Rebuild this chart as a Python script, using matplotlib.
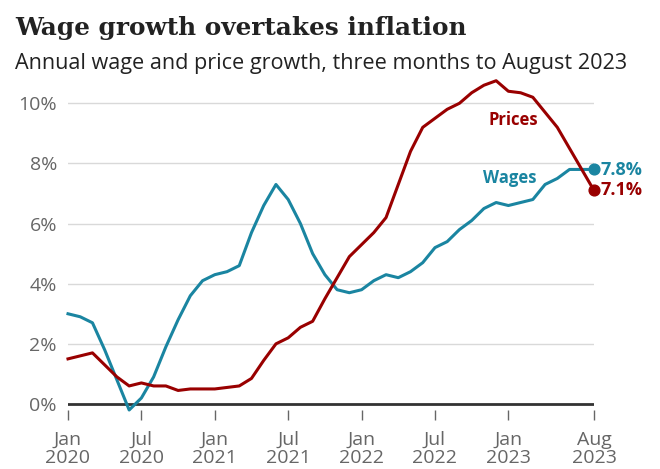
import matplotlib
matplotlib.use("Agg")
import matplotlib.pyplot as plt

# monthly values, three months to Jan 2020 ... Aug 2023
wages = [3.0, 2.9, 2.7, 1.8, 0.8, -0.2, 0.2, 0.9, 1.9, 2.8, 3.6, 4.1,
         4.3, 4.4, 4.6, 5.7, 6.6, 7.3, 6.8, 6.0, 5.0, 4.3, 3.8, 3.7,
         3.8, 4.1, 4.3, 4.2, 4.4, 4.7, 5.2, 5.4, 5.8, 6.1, 6.5, 6.7,
         6.6, 6.7, 6.8, 7.3, 7.5, 7.8, 7.8, 7.8]
prices = [1.5, 1.6, 1.7, 1.3, 0.9, 0.6, 0.7, 0.6, 0.6, 0.45, 0.5, 0.5,
          0.5, 0.55, 0.6, 0.85, 1.45, 2.0, 2.2, 2.55, 2.75, 3.5, 4.2, 4.9,
          5.3, 5.7, 6.2, 7.3, 8.4, 9.2, 9.5, 9.8, 10.0, 10.35, 10.6, 10.75,
          10.4, 10.35, 10.2, 9.7, 9.2, 8.5, 7.8, 7.1]
months = list(range(len(wages)))
tick_pos = [0, 6, 12, 18, 24, 30, 36, 43]
tick_labels = ["Jan\n2020", "Jul\n2020", "Jan\n2021", "Jul\n2021",
               "Jan\n2022", "Jul\n2022", "Jan\n2023", "Aug\n2023"]
y_ticks = [0, 2, 4, 6, 8, 10]

teal = "#1a85a1"
red = "#990000"
grey = "#666666"

plt.rcParams['font.family'] = ['Open Sans', 'DejaVu Sans']

fig = plt.figure(figsize=(6.6, 4.69), dpi=100)
ax = fig.add_axes([68 / 660, 0.1258, 526 / 660, 0.7181])

ax.plot(months, wages, color=teal, lw=2.2, clip_on=False, zorder=3)
ax.plot(months, prices, color=red, lw=2.2, clip_on=False, zorder=3)
ax.scatter([months[-1]], [wages[-1]], s=60, color=teal, clip_on=False, zorder=4)
ax.scatter([months[-1]], [prices[-1]], s=60, color=red, clip_on=False, zorder=4)

ax.set_xlim(0, 43)
ax.set_ylim(-0.2, 11)
for s in ax.spines.values():
    s.set_visible(False)
ax.axhline(0, color="#333333", lw=2, zorder=2)

ax.set_yticks(y_ticks)
ax.set_yticklabels([f"{v}%" for v in y_ticks])
ax.tick_params(axis="y", length=0, pad=8, labelsize=14, labelcolor=grey)
ax.grid(axis="y", color="#d9d9d9", lw=1)
ax.set_axisbelow(True)

ax.set_xticks(tick_pos)
ax.set_xticklabels(tick_labels, linespacing=1.0)
ax.tick_params(axis="x", length=7, width=1, color=grey, pad=8,
               labelsize=14, labelcolor=grey)

ax.text(36.4, 9.45, "Prices", color=red, fontsize=12, fontweight="bold",
        ha="center", va="center")
ax.text(36.1, 7.52, "Wages", color=teal, fontsize=12, fontweight="bold",
        ha="center", va="center")
ax.text(43.5, 7.78, "7.8%", color=teal, fontsize=13, fontweight="bold",
        ha="left", va="center", clip_on=False)
ax.text(43.5, 7.1, "7.1%", color=red, fontsize=13, fontweight="bold",
        ha="left", va="center", clip_on=False)

fig.text(15 / 660, 1 - 28 / 469, "Wage growth overtakes inflation",
         family="DejaVu Serif", fontweight="bold", fontsize=17.8,
         color="#222222", ha="left", va="center")
fig.text(15 / 660, 1 - 63 / 469,
         "Annual wage and price growth, three months to August 2023",
         fontsize=15.6, color="#222222", ha="left", va="center")

fig.savefig("out.png", dpi=100)
